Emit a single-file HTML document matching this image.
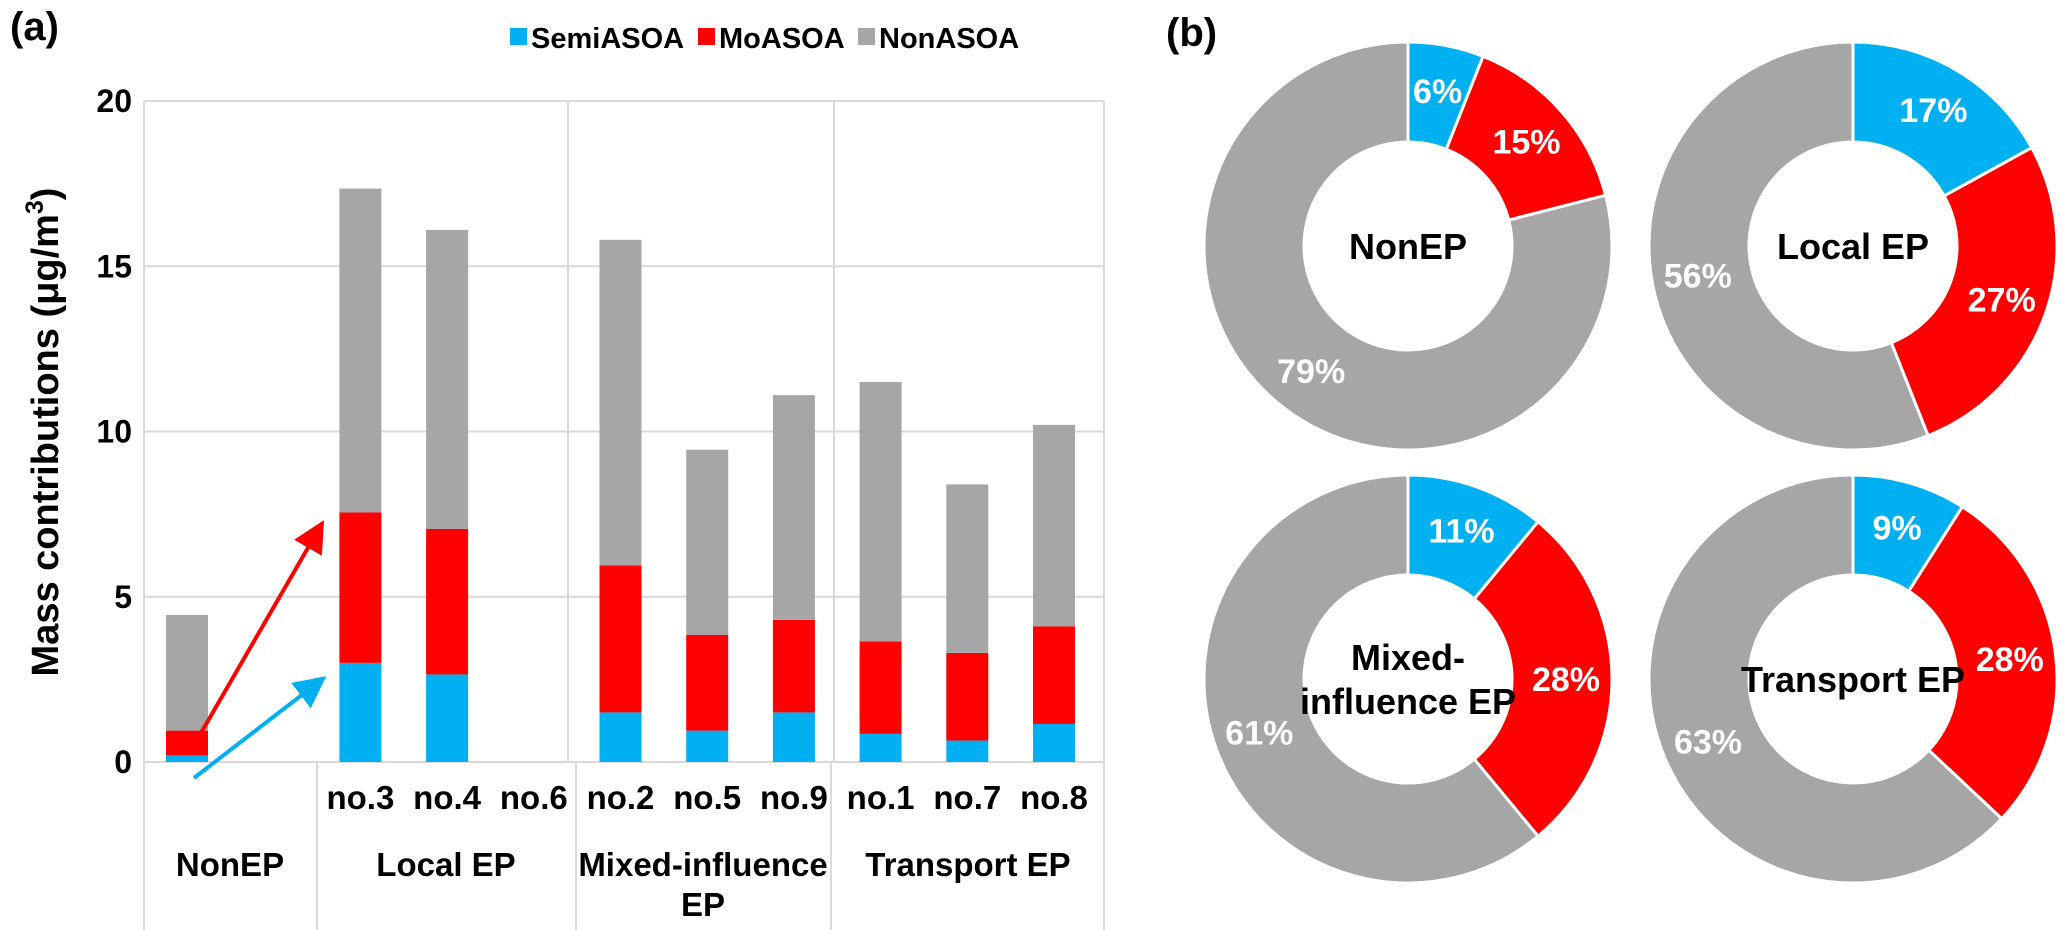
<!DOCTYPE html>
<html><head><meta charset="utf-8">
<style>
html,body{margin:0;padding:0;background:#fff;}
svg{display:block;font-family:"Liberation Sans",Arial,sans-serif;font-weight:bold;}
</style></head>
<body>
<svg id="chart" width="2067" height="930" viewBox="0 0 2067 930" xmlns="http://www.w3.org/2000/svg">
<defs>
<marker id="arrRed" markerWidth="8" markerHeight="8" refX="6" refY="4" orient="auto" markerUnits="strokeWidth"><path d="M0,0 L8,4 L0,8 z" fill="#FF0000"/></marker>
<marker id="arrBlue" markerWidth="8" markerHeight="8" refX="6" refY="4" orient="auto" markerUnits="strokeWidth"><path d="M0,0 L8,4 L0,8 z" fill="#00B0F0"/></marker>
</defs>
<text x="10" y="40" font-size="40">(a)</text>
<text x="1166" y="46" font-size="40">(b)</text>
<g>
 <g><rect x="510" y="28" width="17" height="17" fill="#00B0F0"/><text x="531" y="48" font-size="29">SemiASOA</text></g>
 <g><rect x="698" y="28" width="17" height="17" fill="#FF0000"/><text x="719" y="48" font-size="29">MoASOA</text></g>
 <g><rect x="858" y="28" width="17" height="17" fill="#A6A6A6"/><text x="879" y="48" font-size="29">NonASOA</text></g>
</g>
<g id="barArea"></g>
<g id="pieArea"></g>
</svg>
<script>
const categories = ["", "", "no.3", "no.4", "no.6", "no.2", "no.5", "no.9", "no.1", "no.7", "no.8"];
const semiASOA = [0.2, 0, 3.0, 2.65, 0, 1.5, 0.95, 1.5, 0.85, 0.65, 1.15];
const moASOA   = [0.75, 0, 4.55, 4.4, 0, 4.45, 2.9, 2.8, 2.8, 2.65, 2.95];
const nonASOA  = [3.5, 0, 9.8, 9.05, 0, 9.85, 5.6, 6.8, 7.85, 5.1, 6.1];
const yTicks = [0, 5, 10, 15, 20];
const groups = ["NonEP", "Local EP", "Mixed-influence|EP", "Transport EP"];
const pieNames = ["NonEP", "Local EP", "Mixed-|influence EP", "Transport EP"];
const pieSemi = [6, 17, 11, 9];
const pieMo = [15, 27, 28, 28];
const pieNon = [79, 56, 61, 63];

const NS = "http://www.w3.org/2000/svg";
function mk(tag, attrs, parent, txt){const e=document.createElementNS(NS,tag);for(const k in attrs)e.setAttribute(k,attrs[k]);if(txt!==undefined)e.textContent=txt;parent.appendChild(e);return e;}
const COL = {semi:"#00B0F0", mo:"#FF0000", non:"#A6A6A6"};

const bar = document.getElementById("barArea");
const X0 = 144, X1 = 1104, Y0 = 762, Y20 = 101;
const yS = v => Y0 - (v/20)*(Y0-Y20);
const xS = i => 187 + i*86.7;
const BW = 42;
yTicks.forEach(t=>{
  const y=yS(t);
  const l=mk("line",{x1:X0,x2:X1,y1:y,y2:y,stroke:"#D9D9D9","stroke-width":2},bar);
  
  
  const tx=mk("text",{x:132,y:y+11,"font-size":32,"text-anchor":"end"},bar,String(t));
  
  
});
[[X0,Y20,X0,930],[X1,Y20,X1,930],[568,Y20,568,Y0],[576,Y0,576,930],[834,Y20,834,Y0],[831,Y0,831,930],[317,Y0,317,930]].forEach(s=>{
  const l=mk("line",{x1:s[0],y1:s[1],x2:s[2],y2:s[3],stroke:"#D9D9D9","stroke-width":2},bar);
  
  
});
const yt=mk("text",{x:0,y:0,"font-size":38,"text-anchor":"middle",transform:"translate(58,432) rotate(-90)"},bar);


yt.innerHTML='Mass contributions (μg/m<tspan font-size="25" dy="-15">3</tspan><tspan dy="15">)</tspan>';
categories.forEach((c,i)=>{
  const cx=xS(i);
  let base=0;
  [[semiASOA[i],COL.semi,'semiasoa'],[moASOA[i],COL.mo,'moasoa'],[nonASOA[i],COL.non,'nonasoa']].forEach(s=>{
    if(s[0]<=0)return;
    const r=mk("rect",{x:cx-BW/2,y:yS(base+s[0]),width:BW,height:yS(base)-yS(base+s[0]),fill:s[1]},bar);
    
    
    base+=s[0];
  });
  if(c){
    const t=mk("text",{x:cx,y:809,"font-size":33,"text-anchor":"middle"},bar,c);
    
    
  }
});
const gx=[230,446,703,968];
groups.forEach((g,i)=>{
  const parts=g.split("|");
  parts.forEach((p,j)=>{
    const t=mk("text",{x:gx[i],y:876+j*40,"font-size":33,"text-anchor":"middle"},bar,p);
    
    
  });
});
const a1=mk("line",{x1:194,y1:745,x2:320,y2:527,stroke:"#FF0000","stroke-width":4,"marker-end":"url(#arrRed)"},bar);


const a2=mk("line",{x1:194,y1:778,x2:320,y2:681,stroke:"#00B0F0","stroke-width":4,"marker-end":"url(#arrBlue)"},bar);



const pie=document.getElementById("pieArea");
const centers=[[1408,246],[1853,246],[1408,679],[1853,679]];
const R=204, r=104;
function pt(cx,cy,rad,frac){const a=frac*2*Math.PI;return [cx+rad*Math.sin(a),cy-rad*Math.cos(a)];}
pieNames.forEach((n,i)=>{
  const [cx,cy]=centers[i];
  const vals=[[pieSemi[i],COL.semi,'semiasoa'],[pieMo[i],COL.mo,'moasoa'],[pieNon[i],COL.non,'nonasoa']];
  const tot=vals.reduce((s,v)=>s+v[0],0);
  let acc=0;
  vals.forEach(v=>{
    const f0=acc/tot, f1=(acc+v[0])/tot;
    const p0=pt(cx,cy,R,f0),p1=pt(cx,cy,R,f1),q1=pt(cx,cy,r,f1),q0=pt(cx,cy,r,f0);
    const large=(f1-f0)>0.5?1:0;
    const d=`M${p0[0]},${p0[1]} A${R},${R} 0 ${large} 1 ${p1[0]},${p1[1]} L${q1[0]},${q1[1]} A${r},${r} 0 ${large} 0 ${q0[0]},${q0[1]} Z`;
    const s=mk("path",{d:d,fill:v[1],stroke:"#fff","stroke-width":3},pie);
    
    
    const lp=pt(cx,cy,158,(f0+f1)/2);
    const t=mk("text",{x:lp[0],y:lp[1]+12,"font-size":34,"text-anchor":"middle",fill:"#fff"},pie,v[0]+"%");
    
    
    acc+=v[0];
  });
  const parts=n.split("|");
  parts.forEach((p,j)=>{
    const y=cy+13+(j-(parts.length-1)/2)*44;
    const t=mk("text",{x:cx,y:y,"font-size":36,"text-anchor":"middle",fill:"#000"},pie,p);
    
    
  });
});
</script>
</body></html>
